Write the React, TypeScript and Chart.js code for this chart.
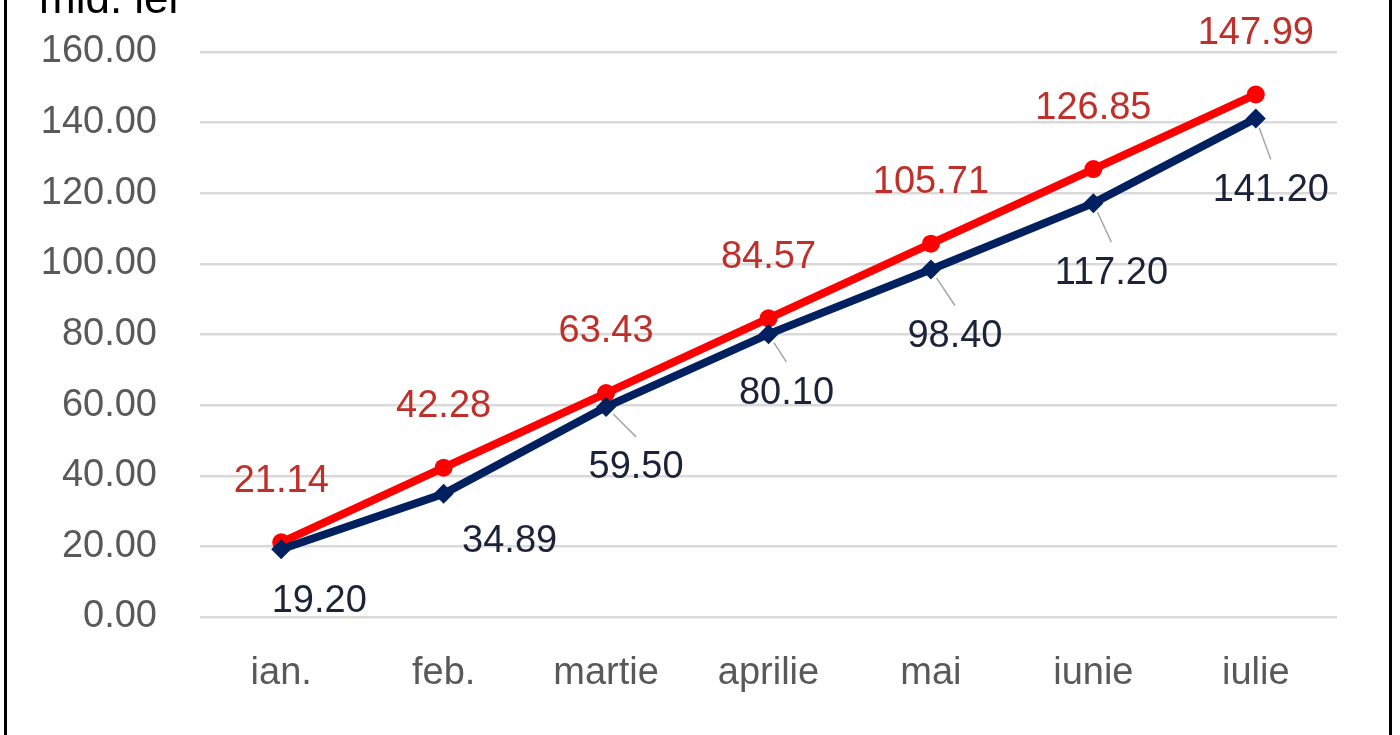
import { useEffect, useRef } from 'react';
import { Chart, ChartConfiguration, Plugin, registerables } from 'chart.js';

Chart.register(...registerables);

const months = ['ian.', 'feb.', 'martie', 'aprilie', 'mai', 'iunie', 'iulie'];
const redValues = [21.14, 42.28, 63.43, 84.57, 105.71, 126.85, 147.99];
const navyValues = [19.2, 34.89, 59.5, 80.1, 98.4, 117.2, 141.2];
const yTicks = [0, 20, 40, 60, 80, 100, 120, 140, 160];

const FONT = '"Liberation Sans", Arial, sans-serif';
const RED = '#FF0000';
const NAVY = '#002060';

// label offsets from the marker (Excel moved these by hand)
const navyLabelOffsets: [number, number][] = [
  [38, 52],
  [66, 48],
  [30, 61],
  [18, 59],
  [24, 67],
  [18, 70],
  [15, 72]
];
const navyLeaders = [false, false, true, true, true, true, true];

const labelsPlugin: Plugin = {
  id: 'pointLabels',
  afterDatasetsDraw(chart) {
    const { ctx } = chart;
    ctx.save();
    ctx.font = `38px ${FONT}`;
    ctx.textAlign = 'center';
    ctx.textBaseline = 'middle';

    // navy series is dataset 0, red is dataset 1
    const navyMeta = chart.getDatasetMeta(0);
    navyMeta.data.forEach((pt, i) => {
      const [dx, dy] = navyLabelOffsets[i];
      const lx = pt.x + dx;
      const ly = pt.y + dy;
      if (navyLeaders[i]) {
        const ex = lx;
        const ey = ly - 14 - 17;
        const len = Math.hypot(ex - pt.x, ey - pt.y);
        ctx.strokeStyle = '#a6a6a6';
        ctx.lineWidth = 1.5;
        ctx.beginPath();
        ctx.moveTo(pt.x + ((ex - pt.x) / len) * 10, pt.y + ((ey - pt.y) / len) * 10);
        ctx.lineTo(ex, ey);
        ctx.stroke();
      }
      ctx.fillStyle = '#1c2238';
      ctx.fillText(navyValues[i].toFixed(2), lx, ly);
    });

    const redMeta = chart.getDatasetMeta(1);
    redMeta.data.forEach((pt, i) => {
      ctx.fillStyle = '#c0302b';
      ctx.fillText(redValues[i].toFixed(2), pt.x, pt.y - 61);
    });

    // unit title, top-left (cut by the frame like the original)
    ctx.font = `44px ${FONT}`;
    ctx.textAlign = 'left';
    ctx.textBaseline = 'alphabetic';
    ctx.fillStyle = '#000';
    ctx.fillText('mld. lei', 39, 13);
    ctx.restore();
  }
};

export default function App() {
  const chartRef = useRef<HTMLCanvasElement | null>(null);

  useEffect(() => {
    document.body.style.margin = '0';
    if (!chartRef.current) return;

    const config: ChartConfiguration = {
      type: 'line',
      data: {
        labels: months,
        datasets: [
          {
            label: 'navy',
            data: navyValues,
            borderColor: NAVY,
            backgroundColor: NAVY,
            borderWidth: 8,
            pointStyle: 'rectRot',
            pointRadius: 10,
            pointBorderWidth: 0,
            tension: 0
          },
          {
            label: 'red',
            data: redValues,
            borderColor: RED,
            backgroundColor: RED,
            borderWidth: 8,
            pointStyle: 'circle',
            pointRadius: 9,
            pointBorderWidth: 0,
            tension: 0
          }
        ]
      },
      options: {
        responsive: false,
        animation: false,
        layout: { padding: { top: 52, right: 63, bottom: 0, left: 0 } },
        plugins: {
          legend: { display: false },
          tooltip: { enabled: false }
        },
        scales: {
          x: {
            offset: true,
            grid: { display: false, drawTicks: false },
            border: { display: false },
            ticks: {
              color: '#595959',
              padding: 34,
              font: { family: FONT, size: 38 }
            },
            afterFit: (scale: any) => {
              scale.height = 118;
            }
          },
          y: {
            min: 0,
            max: 160,
            afterBuildTicks: (scale: any) => {
              scale.ticks = yTicks.map(v => ({ value: v }));
            },
            grid: { color: '#d9d9d9', lineWidth: 2.5, drawTicks: false },
            border: { display: false },
            ticks: {
              color: '#595959',
              padding: 43,
              font: { family: FONT, size: 38 },
              callback: (v: any) => Number(v).toFixed(2)
            },
            afterFit: (scale: any) => {
              scale.width = 200;
              // tick padding would otherwise push the plot top down
              scale.paddingTop = 0;
              scale.paddingBottom = 0;
            }
          }
        }
      },
      plugins: [labelsPlugin]
    };

    const chart = new Chart(chartRef.current, config);
    return () => chart.destroy();
  }, []);

  return (
    <div style={{ position: 'relative', width: 1400, height: 735, overflow: 'hidden', background: '#fff' }}>
      <canvas ref={chartRef} width={1400} height={735} style={{ display: 'block' }} />
      <div
        style={{
          position: 'absolute',
          left: 4,
          top: -10,
          width: 1382,
          height: 780,
          border: '3px solid #000',
          pointerEvents: 'none'
        }}
      />
    </div>
  );
}
